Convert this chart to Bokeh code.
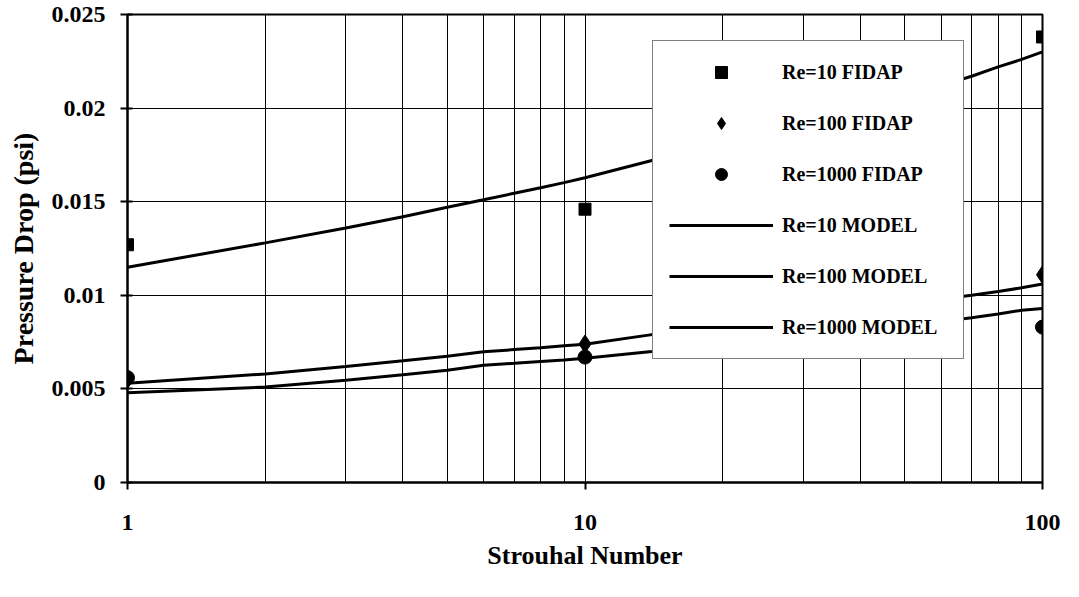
from bokeh.plotting import figure
from bokeh.models import (FixedTicker, Legend, LegendItem, Range1d)
from bokeh.embed import file_html
from bokeh.resources import INLINE

# ---------------- data ----------------
st_points = [1, 10, 100]
re10_fidap = [0.0127, 0.0146, 0.0238]
re100_fidap = [0.0055, 0.0074, 0.0111]
re1000_fidap = [0.0056, 0.0067, 0.0083]

st_model = [1, 2, 3, 4, 5, 6, 7, 8, 9, 10, 14, 20, 30, 40, 50, 60, 70, 80, 90, 100]
re10_model = [0.0115, 0.0128, 0.0136, 0.0142, 0.0147, 0.0151, 0.01545, 0.01575, 0.01602, 0.01628,
              0.0172, 0.0180, 0.0191, 0.0199, 0.0206, 0.0212, 0.0217, 0.0222, 0.0226, 0.0230]
re100_model = [0.0053, 0.0058, 0.0062, 0.0065, 0.00675, 0.00698, 0.0071, 0.0072, 0.0073, 0.00738,
               0.0079, 0.0083, 0.0088, 0.0092, 0.0095, 0.0098, 0.0100, 0.0102, 0.0104, 0.0106]
re1000_model = [0.0048, 0.0051, 0.00546, 0.00575, 0.0060, 0.00626, 0.00637, 0.00647, 0.00655, 0.00664,
                0.0070, 0.0074, 0.0078, 0.0081, 0.0084, 0.0086, 0.0088, 0.0090, 0.0092, 0.0093]

x_ticks = [1, 10, 100]
x_tick_labels = ["1", "10", "100"]
x_minor = [2, 3, 4, 5, 6, 7, 8, 9, 20, 30, 40, 50, 60, 70, 80, 90]
y_ticks = [0, 0.005, 0.01, 0.015, 0.02, 0.025]
y_tick_labels = ["0", "0.005", "0.01", "0.015", "0.02", "0.025"]

legend_labels = ["Re=10 FIDAP", "Re=100 FIDAP", "Re=1000 FIDAP",
                 "Re=10 MODEL", "Re=100 MODEL", "Re=1000 MODEL"]

x_title = "Strouhal Number"
y_title = "Pressure Drop (psi)"

FONT = "Liberation Serif"

# ---------------- figure ----------------
p = figure(width=1063, height=581, x_axis_type="log",
           x_range=Range1d(1, 100), y_range=Range1d(0, 0.025),
           output_backend="svg", toolbar_location=None,
           min_border_left=127, min_border_right=21,
           min_border_top=14, min_border_bottom=99)
p.background_fill_color = "white"
p.border_fill_color = "white"
p.outline_line_color = "black"
p.outline_line_width = 2

# axes
p.xaxis.ticker = FixedTicker(ticks=x_ticks, minor_ticks=x_minor)
p.yaxis.ticker = FixedTicker(ticks=y_ticks)
p.xaxis.major_label_overrides = {t: l for t, l in zip(x_ticks, x_tick_labels)}
p.yaxis.major_label_overrides = {t: l for t, l in zip(y_ticks, y_tick_labels)}
for ax in (p.xaxis, p.yaxis):
    ax.axis_line_color = "black"
    ax.axis_line_width = 2
    ax.major_tick_line_color = "black"
    ax.major_tick_line_width = 2
    ax.minor_tick_line_color = None
    ax.major_label_text_font = FONT
    ax.major_label_text_font_style = "bold"
    ax.major_label_text_font_size = "24px"
    ax.major_label_text_color = "black"
    ax.axis_label_text_font = FONT
    ax.axis_label_text_font_style = "bold"
    ax.axis_label_text_color = "black"
p.xaxis.axis_label_text_font_size = "26px"
p.yaxis.axis_label_text_font_size = "28px"
p.xaxis.major_tick_out = 7
p.xaxis.major_tick_in = 0
p.yaxis.major_tick_out = 7
p.yaxis.major_tick_in = 5
p.xaxis.major_label_standoff = 25
p.yaxis.major_label_standoff = 15
p.xaxis.axis_label = x_title
p.yaxis.axis_label = y_title
p.xaxis.axis_label_standoff = 8
p.yaxis.axis_label_standoff = 10

# grid
p.xgrid.grid_line_color = "black"
p.xgrid.grid_line_width = 1
p.xgrid.minor_grid_line_color = "black"
p.xgrid.minor_grid_line_width = 1
p.ygrid.grid_line_color = "black"
p.ygrid.grid_line_width = 1

# model lines
lm10 = p.line(st_model, re10_model, line_color="black", line_width=3)
lm100 = p.line(st_model, re100_model, line_color="black", line_width=3)
lm1000 = p.line(st_model, re1000_model, line_color="black", line_width=3)

# FIDAP points
s10 = p.scatter(st_points, re10_fidap, marker="square", size=12, color="black")
s100 = p.scatter(st_points, re100_fidap, marker="diamond", size=18, color="black")
s1000 = p.scatter(st_points, re1000_fidap, marker="circle", size=14, color="black")

items = [LegendItem(label=legend_labels[0], renderers=[s10]),
         LegendItem(label=legend_labels[1], renderers=[s100]),
         LegendItem(label=legend_labels[2], renderers=[s1000]),
         LegendItem(label=legend_labels[3], renderers=[lm10]),
         LegendItem(label=legend_labels[4], renderers=[lm100]),
         LegendItem(label=legend_labels[5], renderers=[lm1000])]
legend = Legend(items=items, location=(525, 123))
legend.border_line_color = "black"
legend.border_line_width = 1.5
legend.background_fill_color = "white"
legend.background_fill_alpha = 1
legend.label_text_font = FONT
legend.label_text_font_style = "bold"
legend.label_text_font_size = "20px"
legend.label_text_color = "black"
legend.glyph_width = 104
legend.glyph_height = 30
legend.label_height = 20
legend.label_width = 165
legend.label_standoff = 9
legend.spacing = 21
legend.padding = 16
legend.margin = 0
p.add_layout(legend, "center")

open("out.html", "w").write(file_html(p, INLINE))
